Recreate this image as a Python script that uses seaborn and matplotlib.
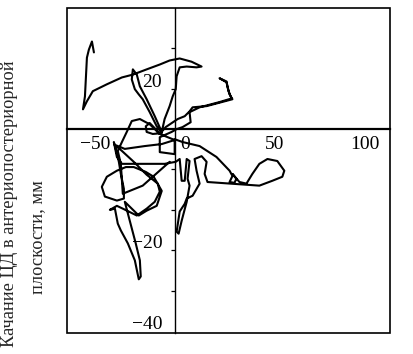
import matplotlib
matplotlib.use("Agg")
import matplotlib.pyplot as plt
import matplotlib.transforms as mtransforms
from matplotlib.patches import Rectangle
import seaborn as sns

# Centre-of-pressure trajectory (mm): mediolateral (x) and anteroposterior (y)
x_mm = [-45.0, -46.1, -47.8, -48.9, -49.4, -50.0, -51.1, -48.9, -45.6, -37.8,
        -29.4, -23.3, -15.6, -8.3, -2.8, 2.8, 9.4, 15.0, 12.2, 6.7,
        2.8, 1.1, 0.6, -1.1, -2.8, -5.6, -7.2,
        -11.1, -15.6, -19.4, -21.1, -23.3, -23.9, -22.2, -20.0, -17.8, -13.9, -10.0, -7.2,
        -12.2, -15.6, -16.1, -13.9, -11.7, -8.3,
        -5.0, -1.7, 1.7, 5.6, 8.3, 10.0, 17.8, 27.8, 32.2, 30.6, 29.4, 28.9, 25.0,
        28.9, 30.0, 31.7, 25.0, 13.9, 8.3,
        8.9, 4.4, 1.1, -1.7,
        -8.3, -8.3, 0.0, 0.0,
        4.4, 13.9, 23.3, 30.6, 32.2, 30.6, 33.3, 34.4, 32.2, 36.1, 40.0, 43.3, 47.2,
        51.7, 57.2, 61.1, 60.0, 54.4, 47.2, 40.6, 30.6, 23.3, 18.3,
        16.7, 17.8, 15.0, 11.1, 12.2, 13.9, 10.0, 6.7,
        5.6, 2.8, 1.1, 2.2, 3.9, 6.7, 8.3, 7.2, 8.3, 6.7, 5.6, 3.9, 2.8, 0.6,
        -5.6, -13.9, -22.2, -29.4,
        -32.2, -33.9, -32.8, -31.1, -30.0, -28.3, -28.3,
        -32.2, -38.9, -40.6, -37.8, -32.2, -27.2, -22.8, -16.1, -11.7, -7.2, -10.0,
        -15.6, -20.0, -23.9, -27.8,
        -25.0, -21.7, -19.4, -18.9, -20.0, -22.2, -26.1, -30.0, -31.7, -33.3, -36.1,
        -32.2, -28.9, -21.1, -15.6, -11.1, -8.3, -9.4,
        -15.6, -22.8, -29.4, -33.3, -27.8, -16.7, -7.2, 0.0,
        -8.3, -13.9, -19.4, -23.9, -26.7, -29.4, -31.7, -30.0,
        -28.9, -17.8, -2.8]
y_mm = [19.0, 21.7, 19.7, 17.7, 13.1, 8.1, 4.9, 6.9, 9.4, 11.1,
        12.8, 13.5, 14.8, 16.0, 17.0, 17.5, 16.7, 15.5, 15.3, 15.5,
        15.3, 13.1, 9.9, 8.1, 5.7, 2.5, -0.7,
        3.2, 7.4, 10.6, 13.5, 14.8, 12.3, 9.9, 8.6, 7.4, 4.2, 0.7, -1.0,
        -1.2, -0.7, 0.7, 1.5, 0.5, -1.2,
        0.5, 1.5, 2.5, 3.2, 4.4, 5.4, 5.7, 6.9, 7.4, 8.6, 10.6, 11.8, 12.6,
        11.6, 9.4, 7.6, 6.7, 5.4, 4.2,
        1.7, 0.5, 0.0, -0.7,
        -2.0, -5.7, -6.2, -2.5,
        -3.2, -4.2, -6.9, -10.3, -11.6, -13.1, -13.3, -12.3, -11.1, -13.1, -13.5, -11.1, -8.6,
        -7.4, -7.9, -10.3, -11.8, -12.8, -14.0, -13.8, -13.5, -13.3, -13.1,
        -11.1, -8.1, -6.7, -7.4, -10.3, -13.5, -16.5, -17.2,
        -18.5, -20.4, -25.4, -25.9, -22.7, -18.0, -14.0, -12.3, -7.9, -7.4, -12.8, -12.8, -7.4, -8.1,
        -8.6, -8.6, -8.6, -8.6,
        -6.9, -3.2, -4.9, -8.1, -11.1, -14.8, -17.2,
        -17.7, -16.7, -14.3, -11.8, -10.3, -9.4, -9.4, -10.6, -11.8, -15.3, -19.0,
        -20.2, -21.4, -19.7, -18.0,
        -22.7, -28.3, -32.5, -36.5, -37.2, -32.5, -28.3, -25.1, -23.4, -19.7, -20.0,
        -19.0, -19.7, -21.4, -19.7, -18.0, -15.5, -13.5,
        -11.3, -8.1, -5.4, -3.9, -4.9, -4.2, -3.7, -2.7,
        -1.2, 1.2, 2.5, 2.0, -0.7, -3.2, -5.4, -8.6,
        -16.0, -14.0, -8.1]

x_ticks = [-50, 0, 50, 100]
x_tick_labels = ["\u221250", "0", "50", "100"]
y_ticks = [-40, -20, 20]
y_tick_labels = ["\u221240", "\u221220", "20"]
y_minor_ticks = [-30, -10, 10]
ylabel_line1 = "Качание ЦД в антериопостериорной"
ylabel_line2 = "плоскости, мм"

sns.set_style("white")
plt.rcParams["font.family"] = ["Liberation Serif", "DejaVu Serif"]

fig = plt.figure(figsize=(4.13, 3.54), dpi=100)
ax = fig.add_axes([67 / 413, 21 / 354, 323 / 413, 325 / 354])

sns.lineplot(x=x_mm, y=y_mm, sort=False, estimator=None, color="black",
             linewidth=1.5, ax=ax)

ax.set_xlim(-60, 120)
ax.set_ylim(-50.5, 30)

# crossing axes through the origin
ax.spines["left"].set_position(("data", 0))
ax.spines["bottom"].set_position(("data", 0))
ax.spines["left"].set_linewidth(1.0)
ax.spines["bottom"].set_linewidth(1.6)
ax.spines["top"].set_visible(False)
ax.spines["right"].set_visible(False)
for s in ("left", "bottom"):
    ax.spines[s].set_color("black")

# outer frame
ax.add_patch(Rectangle((0, 0), 1, 1, transform=ax.transAxes, fill=False,
                       edgecolor="black", linewidth=1.2, clip_on=False, zorder=5))

ax.set_xticks(x_ticks)
ax.set_xticklabels(x_tick_labels)
ax.set_yticks(y_ticks)
ax.set_yticklabels(y_tick_labels)
ax.set_yticks(y_minor_ticks, minor=True)
ax.tick_params(axis="x", length=0, pad=5, labelsize=14, colors="black")
ax.tick_params(axis="y", which="both", direction="out", length=3, width=0.9,
               pad=6, labelsize=14, colors="black", left=True)
ax.set_xlabel("")
ax.set_ylabel("")

# labels are offset from their ticks as in the original drawing
dx = mtransforms.ScaledTranslation(0.105, 0.0, fig.dpi_scale_trans)
dy = mtransforms.ScaledTranslation(0.0, -0.32, fig.dpi_scale_trans)
for lab in ax.get_xticklabels():
    lab.set_transform(lab.get_transform() + dx)
for lab in ax.get_yticklabels():
    lab.set_transform(lab.get_transform() + dy)

fig.text(10 / 413, 1 - 204 / 354, ylabel_line1, rotation=90, ha="center",
         va="center", fontsize=13.2)
fig.text(38 / 413, 1 - 237 / 354, ylabel_line2, rotation=90, ha="center",
         va="center", fontsize=13.2)

fig.savefig("out.png", dpi=100)
